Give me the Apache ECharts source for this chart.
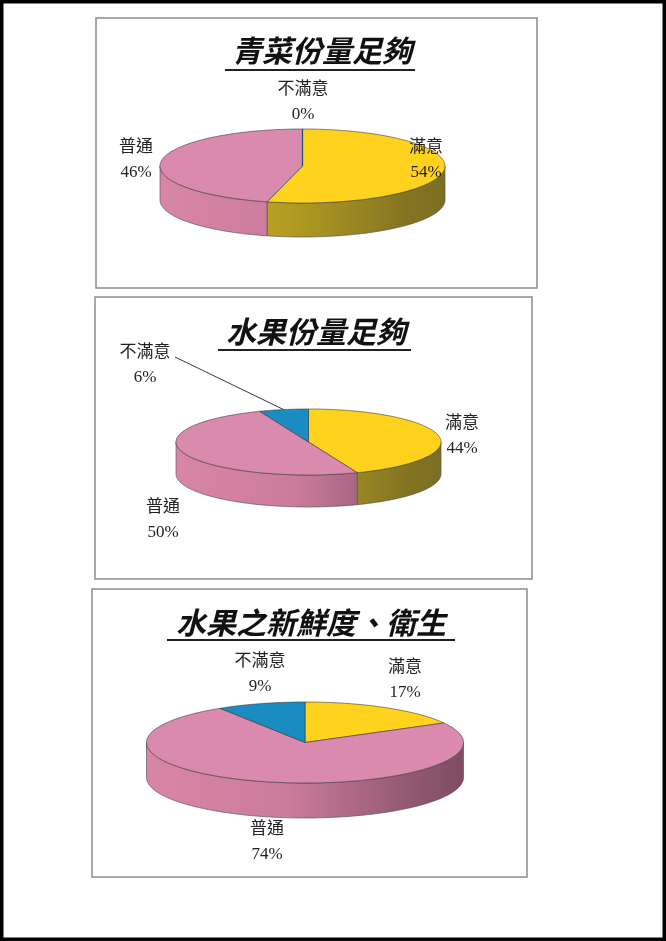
<!DOCTYPE html>
<html>
<head>
<meta charset="utf-8">
<script src="https://cdn.jsdelivr.net/npm/echarts@6/dist/echarts.min.js"></script>
<style>
  html, body { margin: 0; padding: 0; background: #fff; }
  #main { width: 666px; height: 941px; }
</style>
</head>
<body>
<div id="main"></div>
<script>
// survey answers (percent)
const categories = ['滿意', '普通', '不滿意'];
const chartTitles = ['青菜份量足夠', '水果份量足夠', '水果之新鮮度、衛生'];
const vegAmount = [54, 46, 0];
const fruitAmount = [44, 50, 6];
const fruitFresh = [17, 74, 9];
const allValues = [vegAmount, fruitAmount, fruitFresh];

const topColors = ['#FFD21E', '#D98AAE', '#1A8CC2'];
// side wall shading, left -> right
const wallColors = [
  ['#CDB226', '#B39C22', '#857522', '#7C6E22'],
  ['#D886A6', '#CB7B9C', '#8E5670', '#7E4C64'],
  ['#1A7AA8', '#166C96', '#0F4E6E', '#0E4A68']
];

// page layout of the three panels
const panels = [
  { box: [96, 18, 441, 270], title: [322, 51], underline: [225, 415, 70],
    cx: 302.5, cy: 166, rx: 142.5, ry: 37, depth: 34,
    labels: [[426, 160], [136, 160], [303, 102]] },
  { box: [95, 297, 437, 282], title: [316, 332], underline: [218, 411, 350],
    cx: 308.5, cy: 442, rx: 132.5, ry: 33, depth: 32,
    labels: [[462, 436], [163, 520], [145, 365]], leader: [2, 175, 357] },
  { box: [92, 589, 435, 288], title: [311, 623], underline: [167, 455, 640],
    cx: 305, cy: 742.5, rx: 158.5, ry: 40.5, depth: 35,
    labels: [[405, 680], [267, 842], [260, 674]] }
];

const labelFont = '17px "Liberation Serif", "Noto Sans CJK TC", serif';
const titleFont = 'italic bold 30px "Noto Sans CJK TC", sans-serif';

function pieRender(values, p) {
  const total = values.reduce((a, b) => a + b, 0);
  const pt = (a, dy) => [p.cx + p.rx * Math.sin(a), p.cy - p.ry * Math.cos(a) + dy];
  const arc = (from, to, dy) => {
    const n = Math.max(2, Math.ceil(Math.abs(to - from) / 0.02));
    const out = [];
    for (let j = 0; j <= n; j++) out.push(pt(from + (to - from) * j / n, dy));
    return out;
  };
  return function (params, api) {
    const i = params.dataIndex;
    const v = api.value(0);
    let start = 0;
    for (let k = 0; k < i; k++) start += values[k];
    const a0 = start / total * 2 * Math.PI;
    const a1 = (start + v) / total * 2 * Math.PI;
    const children = [];

    // front wall (only the part facing the viewer)
    const w0 = Math.max(a0, Math.PI / 2);
    const w1 = Math.min(a1, Math.PI * 1.5);
    if (w1 > w0) {
      const c = wallColors[i];
      children.push({
        type: 'polygon',
        shape: { points: arc(w0, w1, 0).concat(arc(w1, w0, p.depth)) },
        style: {
          fill: new echarts.graphic.LinearGradient(p.cx - p.rx, 0, p.cx + p.rx, 0, [
            { offset: 0, color: c[0] },
            { offset: 0.45, color: c[1] },
            { offset: 0.86, color: c[2] },
            { offset: 1, color: c[3] }
          ], true),
          stroke: '#4a4a4a',
          lineWidth: 0.6
        }
      });
    }

    // top face
    children.push({
      type: 'polygon',
      shape: { points: [[p.cx, p.cy]].concat(arc(a0, a1, 0)) },
      style: { fill: topColors[i], stroke: v === 0 ? '#1b4f6e' : '#3a3a3a', lineWidth: v === 0 ? 1.2 : 0.6 }
    });

    const lp = p.labels[i];
    if (p.leader && p.leader[0] === i) {
      const mid = (a0 + a1) / 2;
      children.push({
        type: 'line',
        shape: { x1: p.leader[1], y1: p.leader[2], x2: pt(mid, 0)[0], y2: pt(mid, 0)[1] },
        style: { stroke: '#222', lineWidth: 0.9 }
      });
    }
    children.push({
      type: 'text',
      x: lp[0],
      y: lp[1],
      style: {
        text: categories[i] + '\n' + v + '%',
        align: 'center',
        verticalAlign: 'middle',
        font: labelFont,
        lineHeight: 25,
        fill: '#222'
      }
    });
    return { type: 'group', children: children };
  };
}

const graphics = [
  { type: 'rect', shape: { x: 0, y: 0, width: 666, height: 941 },
    style: { fill: '#fff', stroke: '#000', lineWidth: 7 }, z: -10 }
];
panels.forEach((p, k) => {
  graphics.push({
    type: 'rect',
    shape: { x: p.box[0], y: p.box[1], width: p.box[2], height: p.box[3] },
    style: { fill: 'none', stroke: '#8c8c8c', lineWidth: 1.5 }
  });
  graphics.push({
    type: 'text',
    x: p.title[0],
    y: p.title[1],
    style: { text: chartTitles[k], font: titleFont, align: 'center', verticalAlign: 'middle', fill: '#111' }
  });
  graphics.push({
    type: 'line',
    shape: { x1: p.underline[0], y1: p.underline[2], x2: p.underline[1], y2: p.underline[2] },
    style: { stroke: '#222', lineWidth: 2 }
  });
});

const myChart = echarts.init(document.getElementById('main'));
let option = {
  animation: false,
  graphic: graphics,
  series: panels.map((p, k) => ({
    type: 'custom',
    coordinateSystem: 'none',
    silent: true,
    renderItem: pieRender(allValues[k], p),
    data: allValues[k]
  }))
};
option && myChart.setOption(option);
</script>
</body>
</html>
